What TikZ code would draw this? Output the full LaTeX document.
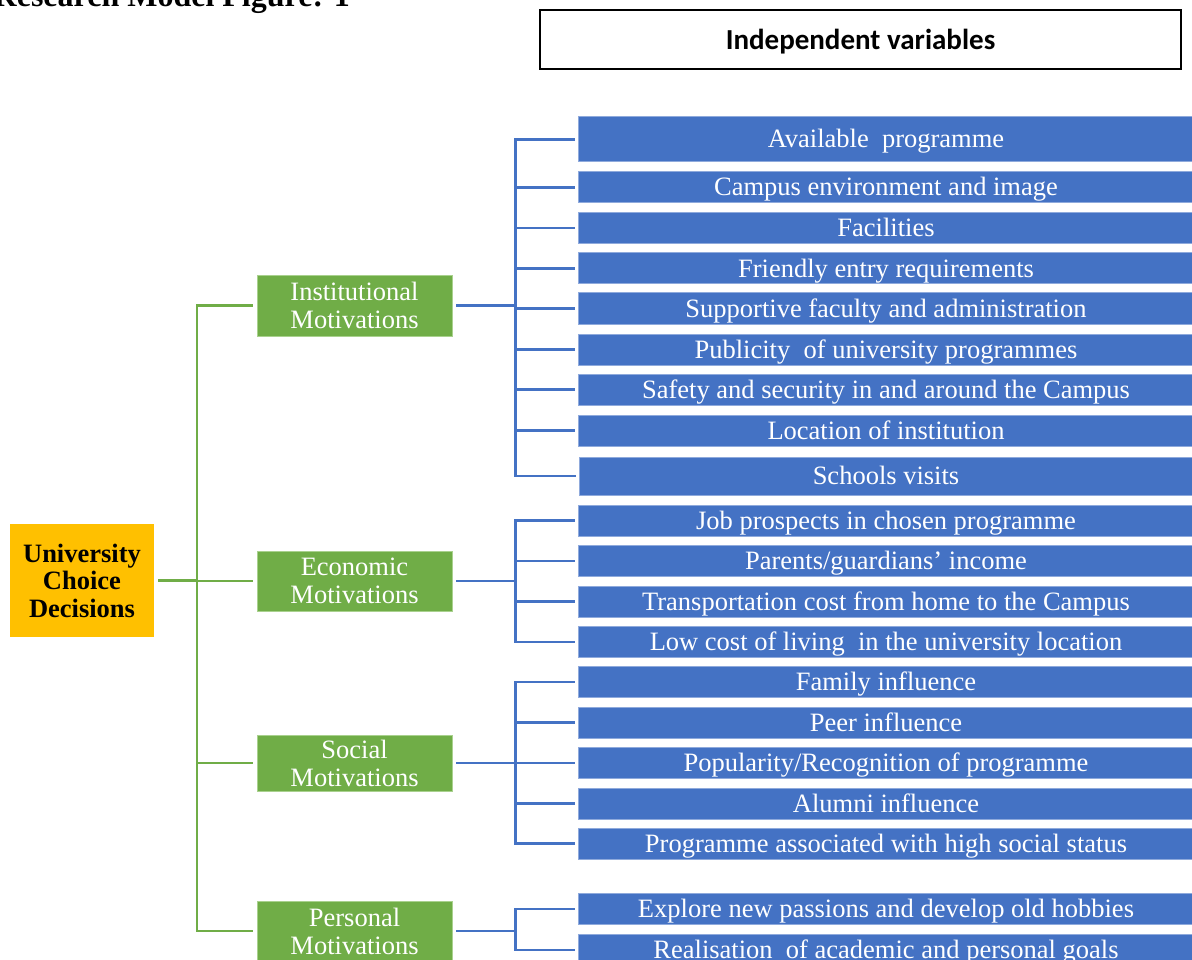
\documentclass[tikz,border=0pt]{standalone}
\usepackage{fontspec}
\setmainfont{Liberation Serif}
\newfontfamily\calibri{Carlito}
\usepackage{xcolor}
\usetikzlibrary{positioning}
\definecolor{itemblue}{RGB}{68,114,196}
\definecolor{edgeblue}{RGB}{143,170,220}
\definecolor{motgreen}{RGB}{112,173,71}
\definecolor{edgegreen}{RGB}{169,209,142}
\definecolor{decgold}{RGB}{255,192,0}
\tikzset{
  itembox/.style = {
    rectangle, fill=itemblue, draw=edgeblue, line width=1pt,
    minimum width=616pt, minimum height=31pt, text=white,
    font=\fontsize{26.5}{28}\selectfont, inner sep=0pt,
    text height=21pt, text depth=4pt
  },
  motbox/.style = {
    rectangle, fill=motgreen, draw=edgegreen, line width=0.8pt,
    minimum width=195pt, text=white, align=center,
    font=\fontsize{26.5}{28}\selectfont, inner sep=0pt
  },
  bline/.style = {draw=itemblue, line width=2.5pt,
    shorten <=4pt, shorten >=3pt},
  gline/.style = {draw=motgreen, line width=2.5pt,
    shorten <=4pt, shorten >=4pt}
}

\begin{document}
\begin{tikzpicture}[
  x=1pt, y=-1pt,
  decbox/.style={
    rectangle, fill=decgold, minimum width=144pt,
    minimum height=113pt, align=center, inner sep=0pt,
    font=\bfseries\fontsize{26.5}{27.5}\selectfont
  },
  hdrbox/.style={
    rectangle, draw=black, line width=2pt,
    minimum width=641pt, minimum height=59pt,
    text height=22pt, text depth=2pt,
    font=\calibri\bfseries\fontsize{29}{31}\selectfont
  }
]
\useasboundingbox (0,0) rectangle (1192,960);

%% Title and header
\node[anchor=base east, inner sep=0pt,
      font=\bfseries\fontsize{32}{34}\selectfont] (ttl) at (350,7)
      {Research Model Figure: 1};
\node[hdrbox] (hdr) at (860.5,39.5) {Independent variables};

%% Dependent variable
\node[decbox] (ucd) at (82,580.5) {University\\Choice\\Decisions};

%% Motivations
\node[motbox, minimum height=61pt] (inst) at (354.5,305.5) {Institutional\\Motivations};
\node[motbox, minimum height=60pt] (econ) at (354.5,581)   {Economic\\Motivations};
\node[motbox, minimum height=56pt] (soc)  at (354.5,763)   {Social\\Motivations};
\node[motbox, minimum height=60pt] (pers) at (354.5,931)   {Personal\\Motivations};

%% Institutional items
\node[itembox, minimum height=45pt] (avp) at (886,139.5) {Available\ \ programme};
\node[itembox] (cam) at (886,187.5) {Campus environment and image};
\node[itembox] (fac) at (886,228)   {Facilities};
\node[itembox] (fer) at (886,268.5) {Friendly entry requirements};
\node[itembox] (sup) at (886,308.5) {Supportive faculty and administration};
\node[itembox] (pub) at (886,349.5) {Publicity\ \ of university programmes};
\node[itembox] (saf) at (886,389.5) {Safety and security in and around the Campus};
\node[itembox] (loc) at (886,430.5) {Location of institution};
\node[itembox, minimum height=38pt,
      minimum width=614pt] (scv) at (886,476) {Schools visits};

%% Economic items
\node[itembox] (job) at (886,520.5) {Job prospects in chosen programme};
\node[itembox] (par) at (886,561)   {Parents/guardians' income};
\node[itembox] (tra) at (886,601.5) {Transportation cost from home to the Campus};
\node[itembox] (low) at (886,642)   {Low cost of living\ \ in the university location};

%% Social items
\node[itembox] (fam) at (886,682)   {Family influence};
\node[itembox] (peer) at (886,722.5) {Peer influence};
\node[itembox] (popr) at (886,763)   {Popularity/Recognition of programme};
\node[itembox] (alu) at (886,803.5) {Alumni influence};
\node[itembox] (hss) at (886,843.5) {Programme associated with high social status};

%% Personal items
\node[itembox] (exp) at (886,909)   {Explore new passions and develop old hobbies};
\node[itembox] (rea) at (886,950)   {Realisation\ \ of academic and personal goals};

%% Decision to motivations
\draw[gline] (ucd.east)--++(43,0)|-(inst.west);
\draw[gline] (ucd.east)--++(43,0)|-(econ.west);
\draw[gline] (ucd.east)--++(43,0)|-(soc.west);
\draw[gline] (ucd.east)--++(43,0)|-(pers.west);

%% Institutional branch
\draw[bline] (inst.east)--++(63,0)|-(avp.west);
\draw[bline] (inst.east)--++(63,0)|-(cam.west);
\draw[bline] (inst.east)--++(63,0)|-(fac.west);
\draw[bline] (inst.east)--++(63,0)|-(fer.west);
\draw[bline] (inst.east)--++(63,0)|-(sup.west);
\draw[bline] (inst.east)--++(63,0)|-(pub.west);
\draw[bline] (inst.east)--++(63,0)|-(saf.west);
\draw[bline] (inst.east)--++(63,0)|-(loc.west);
\draw[bline] (inst.east)--++(63,0)|-(scv.west);

%% Economic branch
\draw[bline] (econ.east)--++(63,0)|-(job.west);
\draw[bline] (econ.east)--++(63,0)|-(par.west);
\draw[bline] (econ.east)--++(63,0)|-(tra.west);
\draw[bline] (econ.east)--++(63,0)|-(low.west);

%% Social branch
\draw[bline] (soc.east)--++(63,0)|-(fam.west);
\draw[bline] (soc.east)--++(63,0)|-(peer.west);
\draw[bline] (soc.east)--++(63,0)|-(popr.west);
\draw[bline] (soc.east)--++(63,0)|-(alu.west);
\draw[bline] (soc.east)--++(63,0)|-(hss.west);

%% Personal branch
\draw[bline] (pers.east)--++(63,0)|-(exp.west);
\draw[bline] (pers.east)--++(63,0)|-(rea.west);

\end{tikzpicture}
\end{document}
